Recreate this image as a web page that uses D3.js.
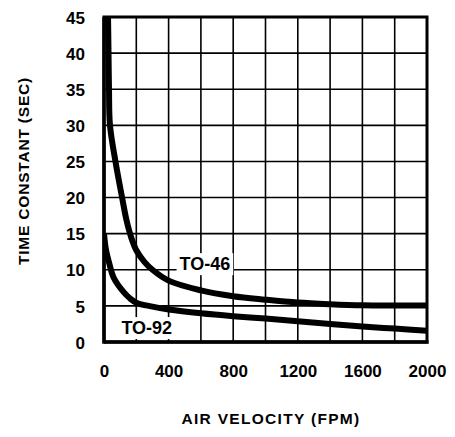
<!DOCTYPE html>
<html><head><meta charset="utf-8">
<script src="https://cdn.jsdelivr.net/npm/d3@7"></script>
<style>html,body{margin:0;padding:0;background:#fff;}</style>
</head><body>
<svg id="c" width="455" height="437"></svg>
<script>
const xTicks = [0, 400, 800, 1200, 1600, 2000];
const yTicks = [0, 5, 10, 15, 20, 25, 30, 35, 40, 45];
const xGrid = [0, 200, 400, 600, 800, 1000, 1200, 1400, 1600, 1800, 2000];
const to46 = [[25,45],[28,40],[31,35],[37,30],[71,25],[112,20],[140,16.8],[171,14.3],[200,12.7],[250,11.1],[300,10.0],[400,8.5],[600,7.15],[800,6.34],[1000,5.86],[1200,5.46],[1400,5.23],[1600,5.08],[1800,5.05],[2000,5.05]];
const to92 = [[0,15],[12,12.8],[30,11.1],[60,8.9],[122,6.9],[160,6.05],[200,5.45],[300,4.9],[400,4.51],[600,3.98],[800,3.58],[1000,3.25],[1200,2.88],[1400,2.48],[1600,2.14],[1800,1.86],[2000,1.57]];
const seriesLabels = [{name:"TO-46", at:[468, 9.95]}, {name:"TO-92", at:[108, 1.1]}];

const svg = d3.select("#c");
const x = d3.scaleLinear().domain([0,2000]).range([104,427]);
const y = d3.scaleLinear().domain([0,45]).range([342,17]);
const font = "'Liberation Sans', Arial, sans-serif";

// grid
const g = svg.append("g");
g.selectAll(".vx").data(xGrid).enter().append("line")
  .attr("x1", d=>x(d)).attr("x2", d=>x(d)).attr("y1", y(45)).attr("y2", y(0))
  .attr("stroke","#000").attr("stroke-width",1.6);
g.selectAll(".hy").data(yTicks).enter().append("line")
  .attr("y1", d=>y(d)).attr("y2", d=>y(d)).attr("x1", x(0)).attr("x2", x(2000))
  .attr("stroke","#000").attr("stroke-width",1.6);

// label backgrounds + labels
const lab = svg.append("g");
seriesLabels.forEach(s=>{
  const t = lab.append("text").attr("x", x(s.at[0])).attr("y", y(s.at[1]))
    .attr("font-family", font).attr("font-weight","bold").attr("font-size", 18)
    .attr("fill","#000").text(s.name);
  const bb = t.node().getBBox();
  lab.insert("rect","text").attr("x", bb.x-3).attr("y", bb.y-1).attr("width", bb.width+6).attr("height", bb.height+2).attr("fill","#fff");
});

// curves
svg.append("defs").append("clipPath").attr("id","clip").append("rect")
  .attr("x", x(0)).attr("y", y(45)).attr("width", x(2000)-x(0)).attr("height", y(0)-y(45));
const line = d3.line().x(d=>x(d[0])).y(d=>y(d[1])).curve(d3.curveCatmullRom.alpha(0.5));
[to46, to92].forEach(data=>{
  svg.append("path").datum(data).attr("d", line).attr("fill","none")
    .attr("stroke","#000").attr("stroke-width",6).attr("stroke-linejoin","round").attr("clip-path","url(#clip)");
});

// frame
svg.append("rect").attr("x", x(0)).attr("y", y(45)).attr("width", x(2000)-x(0)).attr("height", y(0)-y(45))
  .attr("fill","none").attr("stroke","#000").attr("stroke-width",3);
svg.append("line").attr("x1", x(0)).attr("x2", x(0)).attr("y1", y(45)).attr("y2", y(0)+1.5).attr("stroke","#000").attr("stroke-width",3.5);
svg.append("line").attr("x1", x(0)).attr("x2", x(2000)+1.5).attr("y1", y(0)).attr("y2", y(0)).attr("stroke","#000").attr("stroke-width",3.5);

// axes ticks labels
const xAxis = d3.axisBottom(x).tickValues(xTicks).tickSize(0).tickPadding(0).tickFormat(d3.format("d"));
const xa = svg.append("g").attr("transform", `translate(0,${y(0)+23})`).call(xAxis);
xa.select(".domain").remove();
xa.selectAll("text").attr("font-family", font).attr("font-weight","bold").attr("font-size",17).attr("fill","#000").attr("dy","0.71em");

const yAxis = d3.axisLeft(y).tickValues(yTicks).tickSize(0).tickPadding(0).tickFormat(d3.format("d"));
const ya = svg.append("g").attr("transform", `translate(85,0)`).call(yAxis);
ya.select(".domain").remove();
ya.selectAll("text").attr("font-family", font).attr("font-weight","bold").attr("font-size",17).attr("fill","#000").attr("dy","0.36em");

// titles
svg.append("text").attr("x", 271).attr("y", 424).attr("text-anchor","middle")
  .attr("font-family", font).attr("font-weight","bold").attr("font-size",15.5).attr("letter-spacing",1.3)
  .attr("fill","#000").text("AIR VELOCITY (FPM)");
svg.append("text").attr("transform","translate(29,171) rotate(-90)").attr("text-anchor","middle")
  .attr("font-family", font).attr("font-weight","bold").attr("font-size",15.5).attr("letter-spacing",0.8)
  .attr("fill","#000").text("TIME CONSTANT (SEC)");
</script>
</body></html>
